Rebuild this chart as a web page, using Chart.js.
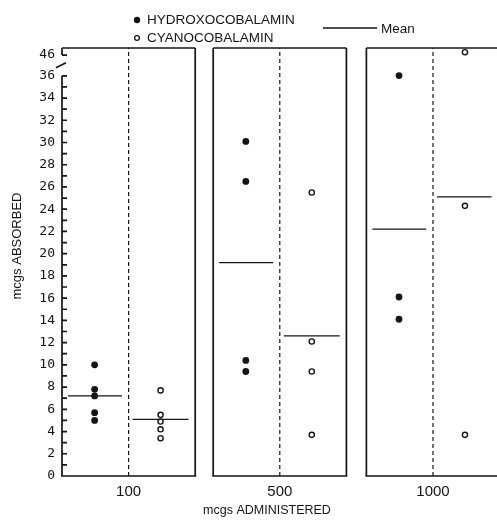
<!DOCTYPE html>
<html lang="en">
  <head>
    <meta charset="UTF-8" />
    <title>Absorption</title>
    <script src="https://cdn.jsdelivr.net/npm/chart.js"></script>
    <style>
      body { margin: 0; background: #fff; }
      .chart-box { width: 497px; height: 520px; }
    </style>
  </head>
  <body>
    <div class="chart-box">
      <canvas id="absChart"></canvas>
    </div>

<script>
  // doses (x groups) and the values, mcgs absorbed
  const doses = ["100", "500", "1000"];
  const hydroxoValues = [
    [10.0, 7.8, 7.2, 5.7, 5.0],
    [30.1, 26.5, 10.4, 9.4],
    [36.1, 16.1, 14.1],
  ];
  const cyanoValues = [
    [7.7, 5.5, 4.9, 4.2, 3.4],
    [25.5, 12.1, 9.4, 3.7],
    [47.4, 24.3, 3.7],
  ];
  const meanHydroxo = [7.2, 19.2, 22.2];
  const meanCyano = [5.1, 12.6, 25.1];
  const yTickValues = [0, 2, 4, 6, 8, 10, 12, 14, 16, 18, 20, 22, 24, 26, 28, 30, 32, 34, 36, 46];

  // layout of the three panels on the x scale
  const panelStart = [0, 2.27, 4.57];
  const Y_TOP = 38.5;

  // the y axis is broken above 36
  function brk(v) {
    return v <= 36 ? v : 36 + (v - 36) * 0.186;
  }

  var ink = "#151515";

  var hydroxoPts = [];
  var cyanoPts = [];
  var meanHPts = [];
  var meanCPts = [];
  var dividerPts = [];
  panelStart.forEach(function (s, i) {
    hydroxoValues[i].forEach(function (v) { hydroxoPts.push({ x: s + 0.49, y: brk(v) }); });
    cyanoValues[i].forEach(function (v) { cyanoPts.push({ x: s + 1.48, y: brk(v) }); });
    meanHPts.push({ x: s + 0.09, y: meanHydroxo[i] }, { x: s + 0.9, y: meanHydroxo[i] }, { x: s + 1, y: null });
    meanCPts.push({ x: s + 1.06, y: meanCyano[i] }, { x: s + 1.9, y: meanCyano[i] }, { x: s + 2, y: null });
    dividerPts.push({ x: s + 1, y: 0 }, { x: s + 1, y: Y_TOP }, { x: s + 1.5, y: null });
  });

  // boxes, broken axis and inward ticks
  const panelsPlugin = {
    id: "panels",
    beforeDatasetsDraw(chart) {
      var ctx = chart.ctx;
      var xs = chart.scales.x, ys = chart.scales.y;
      var T = ys.getPixelForValue(Y_TOP), B = ys.getPixelForValue(0);
      ctx.save();
      ctx.strokeStyle = ink;
      ctx.lineWidth = 1.7;
      panelStart.forEach(function (s, i) {
        var L = xs.getPixelForValue(s), R = xs.getPixelForValue(s + 2);
        ctx.beginPath();
        ctx.moveTo(L, T); ctx.lineTo(R, T);
        ctx.moveTo(R, T); ctx.lineTo(R, B);
        ctx.moveTo(L - 1, B); ctx.lineTo(R + 1, B);
        if (i === 0) {
          var y36 = ys.getPixelForValue(36), y46 = ys.getPixelForValue(brk(46));
          ctx.moveTo(L, B); ctx.lineTo(L, y36);
          ctx.moveTo(L, T); ctx.lineTo(L, y46);
          ctx.moveTo(L - 6, y36 - 8); ctx.lineTo(L + 4, y36 - 13);
          for (var v = 1; v <= 36; v++) {
            var py = ys.getPixelForValue(v);
            ctx.moveTo(L, py); ctx.lineTo(L + 5, py);
          }
          ctx.moveTo(L, y46); ctx.lineTo(L + 5, y46);
        } else {
          ctx.moveTo(L, T); ctx.lineTo(L, B);
        }
        ctx.stroke();
      });
      ctx.restore();
    },
  };

  // legend and axis titles
  const textPlugin = {
    id: "texts",
    afterDraw(chart) {
      var ctx = chart.ctx;
      ctx.save();
      ctx.fillStyle = ink;
      ctx.strokeStyle = ink;
      ctx.font = "13.5px 'Liberation Sans', Arial, sans-serif";
      ctx.textBaseline = "middle";
      ctx.textAlign = "left";

      ctx.beginPath();
      ctx.arc(137, 20, 3.2, 0, Math.PI * 2);
      ctx.fill();
      ctx.fillText(chart.data.datasets[0].label, 147, 20);

      ctx.lineWidth = 1.3;
      ctx.beginPath();
      ctx.arc(137, 38, 2.4, 0, Math.PI * 2);
      ctx.stroke();
      ctx.fillText(chart.data.datasets[1].label, 147, 38);

      ctx.beginPath();
      ctx.moveTo(323, 28); ctx.lineTo(377, 28);
      ctx.stroke();
      ctx.fillText("Mean", 381, 29);

      ctx.font = "12.5px 'Liberation Sans', Arial, sans-serif";
      ctx.textAlign = "center";
      ctx.fillText("mcgs ADMINISTERED", 267, 511);

      ctx.translate(17, 246);
      ctx.rotate(-Math.PI / 2);
      ctx.font = "13px 'Liberation Sans', Arial, sans-serif";
      ctx.fillText("mcgs ABSORBED", 0, 0);
      ctx.restore();
    },
  };

  var absCtx = document.getElementById("absChart").getContext("2d");
  let absChart = new Chart(absCtx, {
    type: "scatter",
    data: {
      datasets: [
        {
          label: "HYDROXOCOBALAMIN",
          data: hydroxoPts,
          backgroundColor: ink,
          borderColor: ink,
          pointRadius: 3.4,
          borderWidth: 0,
        },
        {
          label: "CYANOCOBALAMIN",
          data: cyanoPts,
          backgroundColor: "#fff",
          borderColor: ink,
          pointRadius: 2.6,
          borderWidth: 1.4,
        },
        {
          label: "Mean hydroxo",
          data: meanHPts,
          showLine: true,
          spanGaps: false,
          borderColor: ink,
          borderWidth: 1.3,
          pointRadius: 0,
        },
        {
          label: "Mean cyano",
          data: meanCPts,
          showLine: true,
          spanGaps: false,
          borderColor: ink,
          borderWidth: 1.3,
          pointRadius: 0,
        },
        {
          label: "divider",
          data: dividerPts,
          showLine: true,
          spanGaps: false,
          borderColor: ink,
          borderWidth: 1.2,
          borderDash: [4, 3],
          pointRadius: 0,
        },
      ],
    },
    options: {
      responsive: true,
      maintainAspectRatio: false,
      animation: false,
      layout: { padding: { top: 48, left: 0, right: 0, bottom: 0 } },
      plugins: {
        legend: { display: false },
        tooltip: { enabled: false },
      },
      scales: {
        x: {
          type: "linear",
          min: 0,
          max: 6.45,
          grid: { display: false, drawTicks: false },
          border: { display: false },
          afterBuildTicks: function (scale) {
            scale.ticks = panelStart.map(function (s) { return { value: s + 1 }; });
          },
          afterFit: function (scale) { scale.height = 44; },
          ticks: {
            autoSkip: false,
            maxRotation: 0,
            padding: 7,
            color: ink,
            font: { family: "'Liberation Sans', Arial, sans-serif", size: 15 },
            callback: function (value, index) { return doses[index]; },
          },
        },
        y: {
          min: 0,
          max: Y_TOP,
          grid: { display: false, drawTicks: false },
          border: { display: false },
          afterBuildTicks: function (scale) {
            scale.ticks = yTickValues.map(function (v) { return { value: brk(v) }; });
          },
          afterFit: function (scale) { scale.width = 62; },
          ticks: {
            autoSkip: false,
            padding: 7,
            color: ink,
            font: { family: "'DejaVu Sans Mono', monospace", size: 13 },
            callback: function (value, index) { return String(yTickValues[index]); },
          },
        },
      },
    },
    plugins: [panelsPlugin, textPlugin],
  });
</script>
  </body>
</html>
